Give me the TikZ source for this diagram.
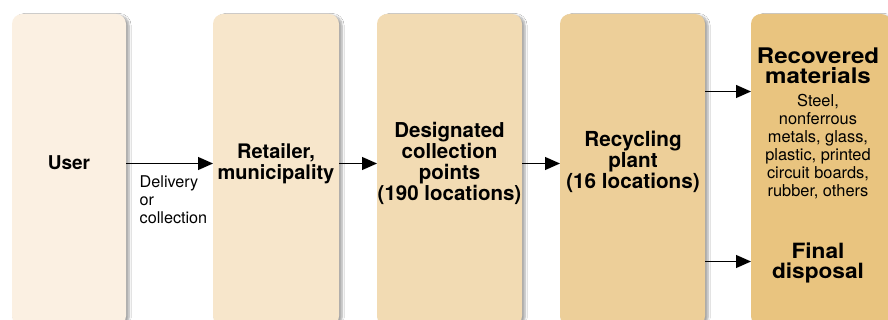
\documentclass[tikz,border=0pt]{standalone}
\usepackage{fontspec}
\setmainfont{TeX Gyre Heros}
\newfontfamily\wideherosA{TeX Gyre Heros}[FakeStretch=1.12]
\newfontfamily\wideherosB{TeX Gyre Heros}[FakeStretch=1.08]
\usetikzlibrary{arrows.meta,shadows.blur}
\definecolor{cA}{HTML}{FBF0E2}
\definecolor{cB}{HTML}{F7E6CB}
\definecolor{cC}{HTML}{F2DBB3}
\definecolor{cD}{HTML}{EDCF99}
\definecolor{cE}{HTML}{E9C47F}
\begin{document}
\begin{tikzpicture}[x=1pt,y=-1pt,
  box/.style={rounded corners=10pt, draw=none, inner sep=0pt, outer sep=0pt,
    anchor=north west, minimum height=312pt,
    blur shadow={shadow xshift=3pt, shadow yshift=-1.5pt, shadow blur steps=6, shadow opacity=35}},
  title/.style={align=center, inner sep=0pt},
  small/.style={font=\fontsize{16.4}{18}\selectfont, align=center, inner sep=0pt},
  arr/.style={line width=1.2pt, -{Triangle[length=15pt,width=13pt]}}]
\fill[white] (0,0) rectangle (888,320);
\useasboundingbox (0,0) rectangle (888,320);

\node[box, fill=cA, minimum width=114pt] (b1) at (12,14) {};
\node[box, fill=cB, minimum width=126pt] (b2) at (213,14) {};
\node[box, fill=cC, minimum width=145pt] (b3) at (377,14) {};
\node[box, fill=cD, minimum width=145pt] (b4) at (560,14) {};
\node[box, fill=cE, minimum width=140pt] (b5) at (751,14) {};

\node[title, font=\fontsize{19}{21}\selectfont\bfseries] (t1) at (69,162.5) {User};
\node[title, font=\fontsize{20}{20.5}\selectfont\bfseries] (t2) at (276,163.5) {Retailer,\\municipality};
\node[title, font=\fontsize{20.5}{21}\selectfont\bfseries] (t3) at (449.5,163) {Designated\\collection\\points\\(190 locations)};
\node[title, font=\fontsize{20.7}{21}\selectfont\bfseries] (t4) at (633,162) {Recycling\\plant\\(16 locations)};
\node[title, font=\wideherosA\fontsize{21.5}{20}\selectfont\bfseries] (t5) at (818,65.5) {Recovered\\materials};
\node[small] (t6) at (818,147) {Steel,\\nonferrous\\metals, glass,\\plastic, printed\\circuit boards,\\rubber, others};
\node[title, font=\wideherosB\fontsize{21}{20}\selectfont\bfseries] (t7) at (818,262.5) {Final\\disposal};
\node[small, font=\fontsize{16.2}{17.8}\selectfont, align=left, anchor=north west] (dl) at (139.5,175.5) {Delivery\\or\\collection};

\coordinate (y0) at (0,163.5);
\coordinate (r1) at (728,91.5);
\coordinate (r2) at (728,261.5);
\draw[arr] (b1.east |- y0) -- (b2.west |- y0);
\draw[arr] (b2.east |- y0) -- (b3.west |- y0);
\draw[arr] (b3.east |- y0) -- (b4.west |- y0);
\draw[arr] (b4.east |- r1) -- (b5.west |- r1);
\draw[arr] (b4.east |- r2) -- (b5.west |- r2);
\end{tikzpicture}
\end{document}
